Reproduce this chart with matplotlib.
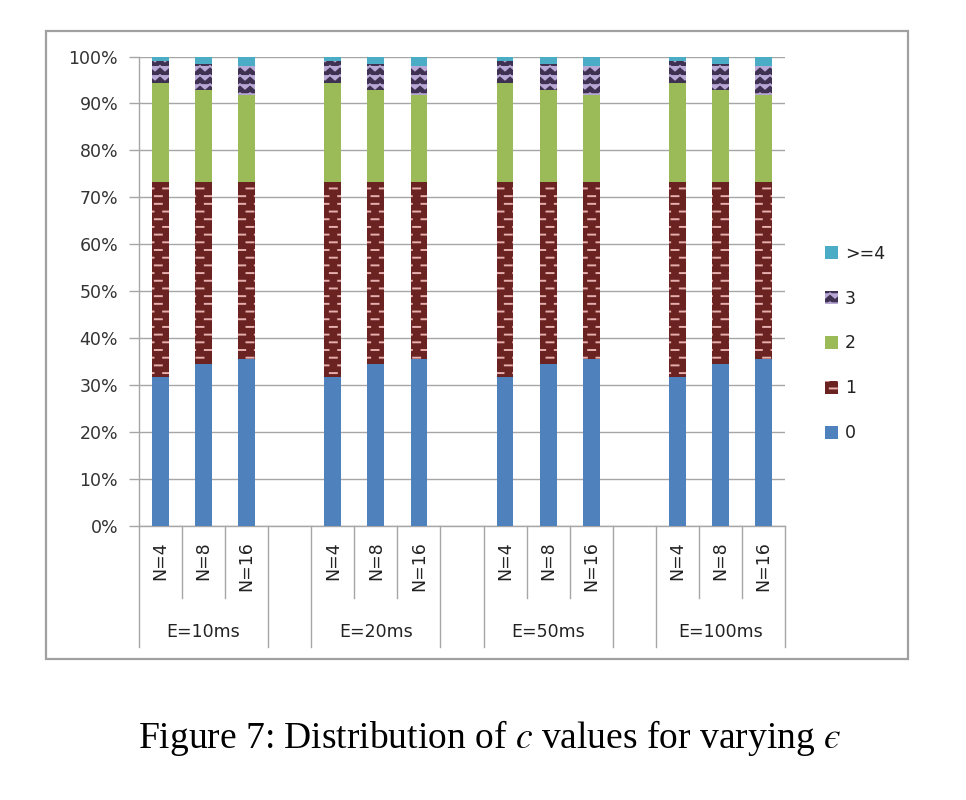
import warnings
warnings.filterwarnings("ignore")
import numpy as np
import matplotlib
matplotlib.use("Agg")
import matplotlib.pyplot as plt
import matplotlib.hatch as mhatch
from matplotlib.path import Path
from matplotlib.patches import Rectangle, Patch
import matplotlib.transforms as mtrans

# ---------------- data ----------------
groups = ["E=10ms", "E=20ms", "E=50ms", "E=100ms"]
bars = ["N=4", "N=8", "N=16"]
series = ["0", "1", "2", "3", ">=4"]
# percent share of each c value, per N (same for every E group)
val_0 = [31.7, 34.4, 35.5]
val_1 = [41.6, 38.9, 37.8]
val_2 = [21.0, 19.5, 18.6]
val_3 = [4.8, 5.6, 6.0]
val_4 = [0.9, 1.6, 2.1]
yticks = [0, 10, 20, 30, 40, 50, 60, 70, 80, 90, 100]

colors = ["#4F81BD", "#6B2322", "#9BBB59", "#3F3151", "#4BACC6"]
hatch_colors = [None, "#E6B0AE", None, "#B9A8D6", None]
hatches = [None, "b", None, "z", None]


# ---------------- custom hatch patterns ----------------
class BrickDash(mhatch.HatchPatternBase):
    def __init__(self, hatch, density):
        self.on = "b" in hatch
        verts = []
        if self.on:
            rows, cols, L = 13, 6, 0.035
            for r in range(rows):
                y = (r + 0.5) / rows
                if r % 2 == 0:
                    xs = [(j + 0.5) / cols for j in range(cols)]
                else:
                    xs = [j / cols for j in range(cols + 1)]
                for x in xs:
                    verts.append(((x - L, y), (x + L, y)))
        self.segs = verts
        self.num_vertices = 2 * len(verts)

    def set_vertices_and_codes(self, vertices, codes):
        k = 0
        for a, b in self.segs:
            vertices[k] = a
            vertices[k + 1] = b
            codes[k] = Path.MOVETO
            codes[k + 1] = Path.LINETO
            k += 2


class ZigZag(mhatch.HatchPatternBase):
    def __init__(self, hatch, density):
        self.on = "z" in hatch
        self.rows, self.per = 11, 10
        self.npts = 2 * self.per + 1
        self.num_vertices = self.rows * self.npts if self.on else 0

    def set_vertices_and_codes(self, vertices, codes):
        k = 0
        amp = 0.022
        for r in range(self.rows):
            y = (r + 0.5) / self.rows
            for i in range(self.npts):
                x = i / (2 * self.per)
                vertices[k] = (x, y + (amp if i % 2 == 0 else -amp))
                codes[k] = Path.MOVETO if i == 0 else Path.LINETO
                k += 1


mhatch._hatch_types.extend([BrickDash, ZigZag])

# ---------------- figure ----------------
plt.rcParams["font.family"] = ["DejaVu Sans"]
plt.rcParams["hatch.linewidth"] = 1.4
plt.rcParams["mathtext.fontset"] = "stix"

fig = plt.figure(figsize=(9.66, 8.0), dpi=100)
ax = fig.add_axes([139 / 966, 1 - 526 / 800, (785 - 139) / 966, (526 - 56.5) / 800])

vals = [val_0, val_1, val_2, val_3, val_4]
positions = []
for g in range(len(groups)):
    for i in range(len(bars)):
        positions.append(g * 4 + i)
positions = np.array(positions)

bottom = np.zeros(len(positions))
handles = []
for s, name in enumerate(series):
    v = np.tile(vals[s], len(groups))
    kw = dict(color=colors[s], width=0.39, bottom=bottom, zorder=3, linewidth=0)
    if hatches[s]:
        kw.update(hatch=hatches[s], edgecolor=hatch_colors[s])
    ax.bar(positions, v, **kw)
    bottom = bottom + v
    hp = Patch(facecolor=colors[s], linewidth=0,
               hatch=hatches[s], edgecolor=hatch_colors[s] if hatches[s] else colors[s])
    handles.append(hp)

grid_c = "#A6A6A6"
ax.set_xlim(-0.5, 14.5)
ax.set_ylim(0, 100)
ax.set_yticks(yticks)
ax.set_yticklabels([f"{t}%" for t in yticks], fontsize=12.5, color="#333333")
ax.yaxis.grid(True, color=grid_c, linewidth=1.0, zorder=0)
ax.set_axisbelow(True)
ax.tick_params(axis="y", length=7, width=1, color=grid_c, pad=8)
ax.set_xticks([])
for sp in ["top", "right"]:
    ax.spines[sp].set_visible(False)
for sp in ["left", "bottom"]:
    ax.spines[sp].set_color(grid_c)
    ax.spines[sp].set_linewidth(1.0)

# multi-level category axis
trans = mtrans.blended_transform_factory(ax.transData, ax.transAxes)
short_y = (526 - 598) / 470
long_y = (526 - 647) / 470
for g in range(len(groups)):
    for b in [g * 4 + 0.5, g * 4 + 1.5]:
        ax.plot([b, b], [0, short_y], transform=trans, color=grid_c, lw=1.0, clip_on=False)
    for b in [g * 4 - 0.5, g * 4 + 2.5]:
        ax.plot([b, b], [0, long_y], transform=trans, color=grid_c, lw=1.0, clip_on=False)
    for i, lab in enumerate(bars):
        ax.text(g * 4 + i, (526 - 541) / 470, lab, transform=trans, rotation=90,
                ha="center", va="top", fontsize=12.5, color="#222222")
    ax.text(g * 4 + 1, (526 - 632) / 470, groups[g], transform=trans,
            ha="center", va="center", fontsize=12.5, color="#222222")

# legend (reversed order)
leg = fig.legend(handles[::-1], series[::-1], loc="upper left",
                 bbox_to_anchor=(816 / 966, 1 - 236 / 800), frameon=False,
                 fontsize=12.5, handlelength=0.75, handleheight=0.75,
                 handletextpad=0.4, labelspacing=1.55, borderpad=0)
for t in leg.get_texts():
    t.set_color("#222222")

# outer chart frame
fig.patches.append(Rectangle((45.7 / 966, 1 - 659 / 800), (907.7 - 45.7) / 966,
                             (659 - 31) / 800, transform=fig.transFigure,
                             fill=False, edgecolor="#A0A0A0", linewidth=1.6))

# caption
fig.text(490 / 966, 1 - 738 / 800,
         "Figure 7: Distribution of $c$ values for varying $\u03f5$",
         ha="center", va="center", fontsize=27, family="Liberation Serif")

fig.savefig("out.png", dpi=100)
